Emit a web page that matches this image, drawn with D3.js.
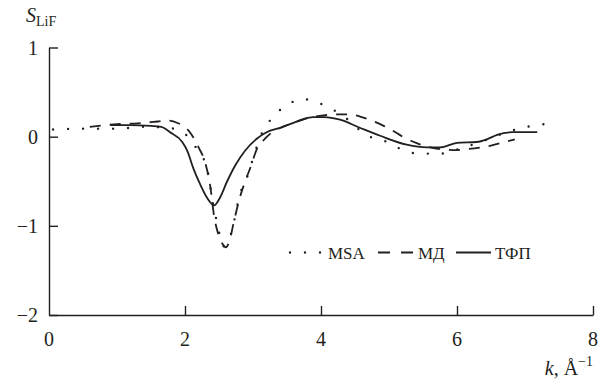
<!DOCTYPE html>
<html><head><meta charset="utf-8">
<script src="https://cdn.jsdelivr.net/npm/d3@7"></script>
<style>
html,body{margin:0;padding:0;background:#fff;}
text{font-family:'Liberation Serif','Times New Roman',serif;}
</style></head>
<body><svg id="c" width="598" height="381"></svg>
<script>
const xTicks=[0,2,4,6,8];
const yTicks=[-2,-1,0,1];
const msaK=[0.06,0.5,1.0,1.4,1.75,1.9,2.03,2.16,2.28,2.35,2.41,2.47,2.51,2.56,2.62,2.68,2.81,2.93,3.03,3.12,3.22,3.37,3.53,3.75,3.96,4.16,4.35,4.54,4.72,4.91,5.12,5.32,5.54,5.76,5.98,6.19,6.41,6.62,6.82,7.03,7.25,7.47];
const msaS=[0.08,0.09,0.09,0.11,0.10,0.07,0.01,-0.12,-0.26,-0.45,-0.75,-0.96,-1.1,-1.23,-1.2,-1.08,-0.64,-0.42,-0.17,0.02,0.15,0.28,0.37,0.42,0.38,0.31,0.22,0.09,0.0,-0.04,-0.12,-0.18,-0.19,-0.19,-0.15,-0.10,-0.04,0.02,0.07,0.11,0.14,0.13];
const mdK=[0.6,1.0,1.3,1.6,1.75,1.9,2.0,2.1,2.2,2.3,2.37,2.43,2.48,2.55,2.6,2.65,2.72,2.8,2.9,2.97,3.05,3.18,3.3,3.44,3.6,3.75,3.95,4.2,4.4,4.6,4.75,4.9,5.05,5.2,5.4,5.55,5.75,6.0,6.15,6.35,6.5,6.7,6.85];
const mdS=[0.11,0.14,0.15,0.17,0.18,0.15,0.11,0.02,-0.12,-0.3,-0.55,-0.9,-1.07,-1.2,-1.24,-1.18,-0.95,-0.7,-0.47,-0.33,-0.15,-0.02,0.06,0.11,0.16,0.2,0.23,0.25,0.25,0.22,0.18,0.13,0.07,0.0,-0.07,-0.11,-0.14,-0.15,-0.14,-0.12,-0.1,-0.06,-0.03];
const tfpK=[0.9,1.2,1.5,1.65,1.78,1.96,2.04,2.12,2.22,2.32,2.43,2.51,2.62,2.74,2.88,3.06,3.2,3.4,3.69,3.88,4.05,4.28,4.57,4.87,5.26,5.56,5.75,6.0,6.29,6.44,6.59,6.82,7.18];
const tfpS=[0.13,0.13,0.12,0.11,0.05,-0.06,-0.17,-0.35,-0.53,-0.68,-0.77,-0.69,-0.5,-0.32,-0.16,-0.02,0.05,0.1,0.18,0.22,0.22,0.19,0.1,0.01,-0.09,-0.12,-0.12,-0.07,-0.06,-0.03,0.02,0.05,0.05];
const legendLabels=["MSA","МД","ТФП"];

const FONT="Liberation Serif";
const svg=d3.select("#c");
const x=d3.scaleLinear().domain([0,8]).range([49,593]);
const y=d3.scaleLinear().domain([-2,1]).range([315,47.5]);
const ink="#231f20";
const fmt=d=>d<0?"\u2212"+Math.abs(d):String(d);

// axes (lines and ticks via d3 axis, labels drawn as plain text)
const ax=svg.append("g").attr("transform","translate(0,315)")
  .call(d3.axisBottom(x).tickValues(xTicks).tickFormat("").tickSize(-9).tickSizeOuter(0));
const ay=svg.append("g").attr("transform","translate(49,0)")
  .call(d3.axisLeft(y).tickValues(yTicks).tickFormat("").tickSize(-9).tickSizeOuter(0));
[ax,ay].forEach(g=>{
  g.selectAll("path,line").attr("stroke",ink).attr("stroke-width",1.4);
  g.selectAll("text").remove();
});
ax.selectAll(".tick").filter(d=>d===0).select("line").remove();

svg.append("g").selectAll("text").data(xTicks).join("text")
  .attr("x",d=>x(d)).attr("y",346).attr("text-anchor","middle")
  .attr("font-family",FONT).attr("font-size",20).attr("fill",ink).text(fmt);
svg.append("g").selectAll("text").data(yTicks).join("text")
  .attr("x",38).attr("y",d=>y(d)+7).attr("text-anchor","end")
  .attr("font-family",FONT).attr("font-size",20).attr("fill",ink).text(fmt);

const line=d3.line().x(d=>x(d[0])).y(d=>y(d[1])).curve(d3.curveMonotoneX);
const msa=msaK.map((k,i)=>[k,msaS[i]]);
const md=mdK.map((k,i)=>[k,mdS[i]]);
const tfp=tfpK.map((k,i)=>[k,tfpS[i]]);

svg.append("path").attr("d",line(tfp)).attr("fill","none").attr("stroke",ink).attr("stroke-width",1.8);
svg.append("path").attr("d",line(md)).attr("fill","none").attr("stroke",ink).attr("stroke-width",1.8).attr("stroke-dasharray","11 9");
svg.append("path").attr("d",line(msa)).attr("fill","none").attr("stroke",ink).attr("stroke-width",2.4).attr("stroke-linecap","round").attr("stroke-dasharray","0 15");

// legend
const lg=svg.append("g");
lg.append("path").attr("d","M290,252.5H321").attr("stroke",ink).attr("stroke-width",2.4).attr("stroke-linecap","round").attr("stroke-dasharray","0 15").attr("fill","none");
lg.append("text").attr("x",328).attr("y",258.5).attr("font-family",FONT).attr("font-size",17).attr("fill",ink).text(legendLabels[0]);
lg.append("path").attr("d","M378,252.5H413").attr("stroke",ink).attr("stroke-width",1.8).attr("stroke-dasharray","12 11").attr("fill","none");
lg.append("text").attr("x",418).attr("y",258.5).attr("font-family",FONT).attr("font-size",17).attr("fill",ink).text(legendLabels[1]);
lg.append("path").attr("d","M456,252.5H491").attr("stroke",ink).attr("stroke-width",1.8).attr("fill","none");
lg.append("text").attr("x",495).attr("y",258.5).attr("font-family",FONT).attr("font-size",17).attr("fill",ink).text(legendLabels[2]);

// axis titles
const yt=svg.append("text").attr("x",26).attr("y",22).attr("font-family",FONT).attr("font-size",20).attr("fill",ink);
yt.append("tspan").attr("font-style","italic").text("S");
yt.append("tspan").attr("font-size",14).attr("dy",4).text("LiF");
const xt=svg.append("text").attr("x",593).attr("y",375).attr("font-family",FONT).attr("font-size",20).attr("fill",ink).attr("text-anchor","end");
xt.append("tspan").attr("font-style","italic").text("k");
xt.append("tspan").text(", Å");
xt.append("tspan").attr("font-size",14).attr("dy",-9).text("\u22121");
</script></body></html>
